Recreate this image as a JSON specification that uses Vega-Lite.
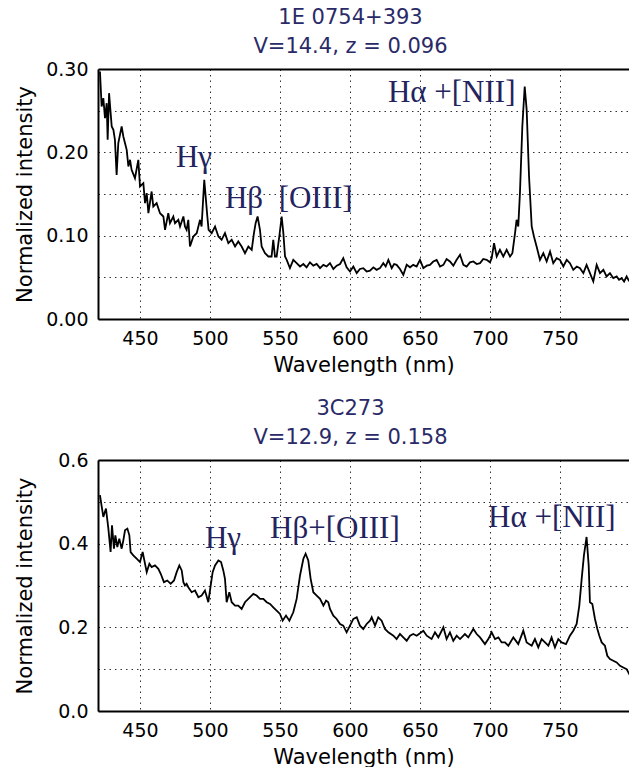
{
  "$schema": "https://vega.github.io/schema/vega-lite/v6.json",
  "background": "white",
  "padding": {"left": 14, "top": 7, "right": 0, "bottom": 0},
  "spacing": 23,
  "config": {
    "view": {"stroke": null},
    "font": "DejaVu Sans",
    "axis": {
      "domain": true, "domainColor": "black", "domainWidth": 2,
      "ticks": false,
      "grid": true, "gridColor": "#333333", "gridDash": [1.5, 4], "gridWidth": 1, "gridOpacity": 1,
      "labelFont": "DejaVu Sans", "labelFontSize": 19, "labelColor": "black", "labelPadding": 10,
      "titleFont": "DejaVu Sans", "titleFontSize": 21, "titleFontWeight": "normal", "titleColor": "black"
    },
    "title": {"font": "DejaVu Sans", "fontSize": 21, "fontWeight": "normal", "color": "#2a2a68", "lineHeight": 29, "offset": 3, "frame": "group", "anchor": "middle", "dx": -13}
  },
  "datasets": {
    "s1": [
      {"wl":421.4,"v":0.297},{"wl":422.6,"v":0.255},{"wl":423.8,"v":0.265},{"wl":425.0,"v":0.241},{"wl":426.2,"v":0.259},{"wl":426.9,"v":0.215},{"wl":427.9,"v":0.271},{"wl":429.8,"v":0.231},{"wl":431.0,"v":0.227},{"wl":432.1,"v":0.215},{"wl":433.3,"v":0.173},{"wl":434.5,"v":0.211},{"wl":436.9,"v":0.231},{"wl":438.1,"v":0.219},{"wl":439.3,"v":0.211},{"wl":440.5,"v":0.203},{"wl":441.7,"v":0.183},{"wl":442.9,"v":0.191},{"wl":444.0,"v":0.179},{"wl":446.4,"v":0.169},{"wl":448.8,"v":0.191},{"wl":450.0,"v":0.159},{"wl":452.4,"v":0.163},{"wl":453.6,"v":0.139},{"wl":454.8,"v":0.151},{"wl":456.0,"v":0.127},{"wl":458.3,"v":0.153},{"wl":459.5,"v":0.135},{"wl":461.9,"v":0.139},{"wl":464.3,"v":0.127},{"wl":466.7,"v":0.123},{"wl":467.9,"v":0.107},{"wl":470.2,"v":0.127},{"wl":471.4,"v":0.115},{"wl":473.8,"v":0.123},{"wl":475.0,"v":0.115},{"wl":477.4,"v":0.119},{"wl":478.6,"v":0.111},{"wl":481.0,"v":0.123},{"wl":482.1,"v":0.111},{"wl":483.3,"v":0.107},{"wl":484.5,"v":0.119},{"wl":485.7,"v":0.087},{"wl":488.1,"v":0.099},{"wl":490.5,"v":0.103},{"wl":492.9,"v":0.119},{"wl":494.0,"v":0.111},{"wl":495.9,"v":0.167},{"wl":497.1,"v":0.143},{"wl":498.1,"v":0.123},{"wl":499.0,"v":0.107},{"wl":501.2,"v":0.103},{"wl":503.6,"v":0.111},{"wl":506.0,"v":0.099},{"wl":508.3,"v":0.095},{"wl":510.7,"v":0.103},{"wl":513.1,"v":0.091},{"wl":515.5,"v":0.095},{"wl":517.9,"v":0.087},{"wl":520.2,"v":0.093},{"wl":522.6,"v":0.087},{"wl":525.0,"v":0.079},{"wl":527.4,"v":0.087},{"wl":529.8,"v":0.083},{"wl":531.4,"v":0.103},{"wl":532.6,"v":0.115},{"wl":534.0,"v":0.123},{"wl":535.7,"v":0.107},{"wl":536.9,"v":0.087},{"wl":538.1,"v":0.083},{"wl":539.3,"v":0.079},{"wl":541.7,"v":0.075},{"wl":544.0,"v":0.075},{"wl":545.2,"v":0.095},{"wl":546.4,"v":0.075},{"wl":547.6,"v":0.075},{"wl":549.5,"v":0.099},{"wl":551.2,"v":0.123},{"wl":552.4,"v":0.103},{"wl":553.6,"v":0.075},{"wl":554.8,"v":0.071},{"wl":557.1,"v":0.061},{"wl":559.5,"v":0.071},{"wl":561.9,"v":0.067},{"wl":564.3,"v":0.063},{"wl":566.7,"v":0.066},{"wl":569.0,"v":0.062},{"wl":571.4,"v":0.068},{"wl":573.8,"v":0.064},{"wl":576.2,"v":0.066},{"wl":578.6,"v":0.061},{"wl":581.0,"v":0.065},{"wl":583.3,"v":0.063},{"wl":585.7,"v":0.067},{"wl":588.1,"v":0.060},{"wl":590.5,"v":0.064},{"wl":592.9,"v":0.066},{"wl":595.2,"v":0.073},{"wl":597.6,"v":0.062},{"wl":600.0,"v":0.057},{"wl":602.4,"v":0.063},{"wl":604.8,"v":0.055},{"wl":607.1,"v":0.060},{"wl":609.5,"v":0.061},{"wl":611.9,"v":0.057},{"wl":614.3,"v":0.058},{"wl":616.7,"v":0.062},{"wl":619.0,"v":0.059},{"wl":621.4,"v":0.061},{"wl":623.8,"v":0.067},{"wl":625.5,"v":0.063},{"wl":627.4,"v":0.071},{"wl":629.8,"v":0.061},{"wl":631.5,"v":0.066},{"wl":633.3,"v":0.065},{"wl":635.7,"v":0.060},{"wl":638.1,"v":0.053},{"wl":640.5,"v":0.065},{"wl":642.9,"v":0.062},{"wl":645.2,"v":0.065},{"wl":647.6,"v":0.063},{"wl":650.0,"v":0.071},{"wl":652.4,"v":0.061},{"wl":654.8,"v":0.064},{"wl":657.1,"v":0.065},{"wl":659.5,"v":0.069},{"wl":661.9,"v":0.071},{"wl":664.3,"v":0.063},{"wl":666.7,"v":0.065},{"wl":669.0,"v":0.072},{"wl":671.4,"v":0.069},{"wl":673.8,"v":0.064},{"wl":676.2,"v":0.071},{"wl":678.6,"v":0.077},{"wl":681.0,"v":0.065},{"wl":683.3,"v":0.063},{"wl":685.7,"v":0.068},{"wl":688.1,"v":0.069},{"wl":690.5,"v":0.066},{"wl":692.9,"v":0.067},{"wl":695.2,"v":0.072},{"wl":697.6,"v":0.071},{"wl":700.0,"v":0.068},{"wl":701.2,"v":0.073},{"wl":702.9,"v":0.091},{"wl":704.8,"v":0.075},{"wl":707.1,"v":0.083},{"wl":709.5,"v":0.075},{"wl":711.9,"v":0.083},{"wl":714.3,"v":0.075},{"wl":716.0,"v":0.079},{"wl":717.9,"v":0.103},{"wl":719.0,"v":0.119},{"wl":720.2,"v":0.111},{"wl":721.4,"v":0.151},{"wl":723.1,"v":0.231},{"wl":724.8,"v":0.279},{"wl":726.2,"v":0.251},{"wl":727.9,"v":0.171},{"wl":729.8,"v":0.111},{"wl":731.4,"v":0.099},{"wl":733.3,"v":0.087},{"wl":735.7,"v":0.071},{"wl":738.1,"v":0.079},{"wl":740.5,"v":0.069},{"wl":742.9,"v":0.081},{"wl":745.2,"v":0.067},{"wl":747.6,"v":0.073},{"wl":750.0,"v":0.071},{"wl":752.4,"v":0.063},{"wl":754.8,"v":0.071},{"wl":757.1,"v":0.067},{"wl":759.5,"v":0.059},{"wl":762.0,"v":0.063},{"wl":764.3,"v":0.061},{"wl":766.7,"v":0.055},{"wl":769.0,"v":0.065},{"wl":771.4,"v":0.055},{"wl":773.8,"v":0.045},{"wl":776.2,"v":0.065},{"wl":778.6,"v":0.055},{"wl":781.0,"v":0.059},{"wl":783.3,"v":0.051},{"wl":785.7,"v":0.055},{"wl":788.1,"v":0.049},{"wl":790.5,"v":0.051},{"wl":792.2,"v":0.047},{"wl":794.0,"v":0.049},{"wl":795.8,"v":0.045},{"wl":797.6,"v":0.051},{"wl":799.2,"v":0.046},{"wl":800.7,"v":0.047}
    ],
    "s2": [
      {"wl":421.4,"v":0.516},{"wl":422.6,"v":0.49},{"wl":423.8,"v":0.464},{"wl":425.7,"v":0.484},{"wl":427.4,"v":0.436},{"wl":429.0,"v":0.38},{"wl":430.0,"v":0.444},{"wl":431.4,"v":0.388},{"wl":432.4,"v":0.42},{"wl":433.8,"v":0.392},{"wl":435.2,"v":0.412},{"wl":436.9,"v":0.388},{"wl":438.1,"v":0.408},{"wl":439.3,"v":0.432},{"wl":441.0,"v":0.436},{"wl":442.4,"v":0.42},{"wl":443.3,"v":0.38},{"wl":445.2,"v":0.372},{"wl":447.6,"v":0.364},{"wl":450.0,"v":0.356},{"wl":451.9,"v":0.38},{"wl":453.1,"v":0.36},{"wl":454.8,"v":0.332},{"wl":456.7,"v":0.352},{"wl":458.3,"v":0.344},{"wl":460.7,"v":0.348},{"wl":463.1,"v":0.34},{"wl":464.8,"v":0.328},{"wl":467.1,"v":0.308},{"wl":469.5,"v":0.312},{"wl":471.9,"v":0.304},{"wl":474.3,"v":0.312},{"wl":476.2,"v":0.332},{"wl":478.1,"v":0.348},{"wl":479.8,"v":0.336},{"wl":481.0,"v":0.308},{"wl":482.1,"v":0.3},{"wl":483.3,"v":0.304},{"wl":484.5,"v":0.296},{"wl":486.9,"v":0.284},{"wl":489.3,"v":0.288},{"wl":491.7,"v":0.272},{"wl":494.0,"v":0.276},{"wl":496.4,"v":0.288},{"wl":498.8,"v":0.26},{"wl":500.5,"v":0.3},{"wl":501.9,"v":0.332},{"wl":503.6,"v":0.348},{"wl":506.0,"v":0.36},{"wl":507.9,"v":0.356},{"wl":509.5,"v":0.336},{"wl":510.7,"v":0.316},{"wl":511.9,"v":0.26},{"wl":513.8,"v":0.284},{"wl":515.5,"v":0.26},{"wl":517.9,"v":0.252},{"wl":520.2,"v":0.252},{"wl":522.6,"v":0.244},{"wl":525.0,"v":0.26},{"wl":528.6,"v":0.272},{"wl":531.0,"v":0.28},{"wl":533.3,"v":0.276},{"wl":535.7,"v":0.268},{"wl":538.1,"v":0.268},{"wl":540.5,"v":0.26},{"wl":542.9,"v":0.256},{"wl":545.2,"v":0.248},{"wl":547.6,"v":0.24},{"wl":550.0,"v":0.232},{"wl":551.9,"v":0.216},{"wl":554.3,"v":0.228},{"wl":556.7,"v":0.216},{"wl":559.5,"v":0.236},{"wl":561.9,"v":0.268},{"wl":564.3,"v":0.324},{"wl":566.7,"v":0.364},{"wl":568.3,"v":0.376},{"wl":570.2,"v":0.36},{"wl":571.9,"v":0.316},{"wl":573.8,"v":0.284},{"wl":576.2,"v":0.276},{"wl":578.6,"v":0.268},{"wl":581.0,"v":0.252},{"wl":582.9,"v":0.264},{"wl":584.5,"v":0.26},{"wl":585.7,"v":0.244},{"wl":588.1,"v":0.228},{"wl":590.5,"v":0.22},{"wl":592.9,"v":0.208},{"wl":595.2,"v":0.204},{"wl":597.6,"v":0.188},{"wl":600.0,"v":0.204},{"wl":602.4,"v":0.22},{"wl":604.8,"v":0.224},{"wl":607.1,"v":0.204},{"wl":609.5,"v":0.196},{"wl":611.9,"v":0.208},{"wl":614.3,"v":0.216},{"wl":615.5,"v":0.224},{"wl":617.9,"v":0.204},{"wl":620.2,"v":0.224},{"wl":622.6,"v":0.216},{"wl":625.0,"v":0.196},{"wl":627.4,"v":0.188},{"wl":631.0,"v":0.18},{"wl":633.3,"v":0.172},{"wl":635.7,"v":0.184},{"wl":638.1,"v":0.176},{"wl":640.5,"v":0.168},{"wl":642.9,"v":0.18},{"wl":645.2,"v":0.184},{"wl":647.6,"v":0.18},{"wl":650.0,"v":0.186},{"wl":652.4,"v":0.192},{"wl":654.8,"v":0.18},{"wl":658.3,"v":0.172},{"wl":660.7,"v":0.188},{"wl":663.1,"v":0.176},{"wl":666.7,"v":0.2},{"wl":669.0,"v":0.172},{"wl":671.4,"v":0.188},{"wl":673.8,"v":0.168},{"wl":676.2,"v":0.18},{"wl":678.6,"v":0.172},{"wl":682.1,"v":0.184},{"wl":684.5,"v":0.176},{"wl":688.1,"v":0.196},{"wl":690.5,"v":0.184},{"wl":692.9,"v":0.176},{"wl":696.4,"v":0.16},{"wl":698.8,"v":0.172},{"wl":701.2,"v":0.188},{"wl":703.6,"v":0.172},{"wl":706.0,"v":0.176},{"wl":708.3,"v":0.164},{"wl":710.7,"v":0.164},{"wl":713.1,"v":0.156},{"wl":716.7,"v":0.176},{"wl":720.2,"v":0.16},{"wl":723.8,"v":0.192},{"wl":726.2,"v":0.164},{"wl":729.8,"v":0.156},{"wl":732.1,"v":0.172},{"wl":734.5,"v":0.152},{"wl":736.9,"v":0.172},{"wl":739.3,"v":0.164},{"wl":741.7,"v":0.156},{"wl":744.0,"v":0.176},{"wl":746.4,"v":0.152},{"wl":748.8,"v":0.172},{"wl":751.2,"v":0.164},{"wl":754.3,"v":0.16},{"wl":757.1,"v":0.18},{"wl":759.5,"v":0.192},{"wl":761.9,"v":0.208},{"wl":763.8,"v":0.252},{"wl":765.5,"v":0.316},{"wl":767.1,"v":0.372},{"wl":769.0,"v":0.416},{"wl":770.5,"v":0.348},{"wl":771.4,"v":0.26},{"wl":773.1,"v":0.256},{"wl":775.0,"v":0.22},{"wl":776.7,"v":0.196},{"wl":778.1,"v":0.18},{"wl":779.8,"v":0.164},{"wl":782.1,"v":0.156},{"wl":783.8,"v":0.132},{"wl":785.7,"v":0.124},{"wl":788.1,"v":0.12},{"wl":790.5,"v":0.116},{"wl":792.9,"v":0.108},{"wl":795.2,"v":0.104},{"wl":797.6,"v":0.1},{"wl":799.5,"v":0.088},{"wl":800.7,"v":0.1}
    ],
    "a1": [
      {"wl":475.7,"v":0.193,"t":"Hγ"},
      {"wl":510.7,"v":0.144,"t":"Hβ\u00a0\u00a0[OIII]"},
      {"wl":627.1,"v":0.271,"t":"Hα +[NII]"}
    ],
    "a2": [
      {"wl":496.4,"v":0.410,"t":"Hγ"},
      {"wl":542.9,"v":0.436,"t":"Hβ+[OIII]"},
      {"wl":698.6,"v":0.462,"t":"Hα +[NII]"}
    ]
  },
  "vconcat": [
    {
      "width": 531,
      "height": 250,
      "title": {"text": ["1E 0754+393", "V=14.4, z = 0.096"]},
      "resolve": {"axis": {"x": "independent"}},
      "layer": [
        {
          "data": {"name": "s1"},
          "mark": {"type": "line", "color": "black", "strokeWidth": 1.8, "clip": true},
          "encoding": {
            "x": {"field": "wl", "type": "quantitative", "scale": {"domain": [420, 799.3], "nice": false, "zero": false},
                  "axis": {"values": [450, 500, 550, 600, 650, 700, 750], "title": "Wavelength (nm)", "titlePadding": 6}},
            "y": {"field": "v", "type": "quantitative", "scale": {"domain": [0, 0.3], "nice": false, "zero": true},
                  "axis": {"values": [0, 0.05, 0.1, 0.15, 0.2, 0.25, 0.3], "labelExpr": "round(datum.value*100) % 10 == 0 ? format(datum.value, '.2f') : ''", "title": "Normalized intensity", "titlePadding": 10}}
          }
        },
        {
          "data": {"name": "a1"},
          "mark": {"type": "text", "font": "Liberation Serif", "fontSize": 31, "color": "#23235e", "align": "left", "baseline": "middle"},
          "encoding": {
            "x": {"field": "wl", "type": "quantitative", "axis": {"orient": "top", "labels": false, "grid": false, "title": null, "ticks": false}},
            "y": {"field": "v", "type": "quantitative"},
            "text": {"field": "t"}
          }
        }
      ]
    },
    {
      "width": 531,
      "height": 251,
      "title": {"text": ["3C273", "V=12.9, z = 0.158"]},
      "resolve": {"axis": {"x": "independent"}},
      "layer": [
        {
          "data": {"name": "s2"},
          "mark": {"type": "line", "color": "black", "strokeWidth": 1.8, "clip": true},
          "encoding": {
            "x": {"field": "wl", "type": "quantitative", "scale": {"domain": [420, 799.3], "nice": false, "zero": false},
                  "axis": {"values": [450, 500, 550, 600, 650, 700, 750], "title": "Wavelength (nm)", "titlePadding": 6}},
            "y": {"field": "v", "type": "quantitative", "scale": {"domain": [0, 0.6], "nice": false, "zero": true},
                  "axis": {"values": [0, 0.1, 0.2, 0.3, 0.4, 0.5, 0.6], "labelExpr": "round(datum.value*10) % 2 == 0 ? format(datum.value, '.1f') : ''", "title": "Normalized intensity", "titlePadding": 22}}
          }
        },
        {
          "data": {"name": "a2"},
          "mark": {"type": "text", "font": "Liberation Serif", "fontSize": 31, "color": "#23235e", "align": "left", "baseline": "middle"},
          "encoding": {
            "x": {"field": "wl", "type": "quantitative", "axis": {"orient": "top", "labels": false, "grid": false, "title": null, "ticks": false}},
            "y": {"field": "v", "type": "quantitative"},
            "text": {"field": "t"}
          }
        }
      ]
    }
  ]
}
